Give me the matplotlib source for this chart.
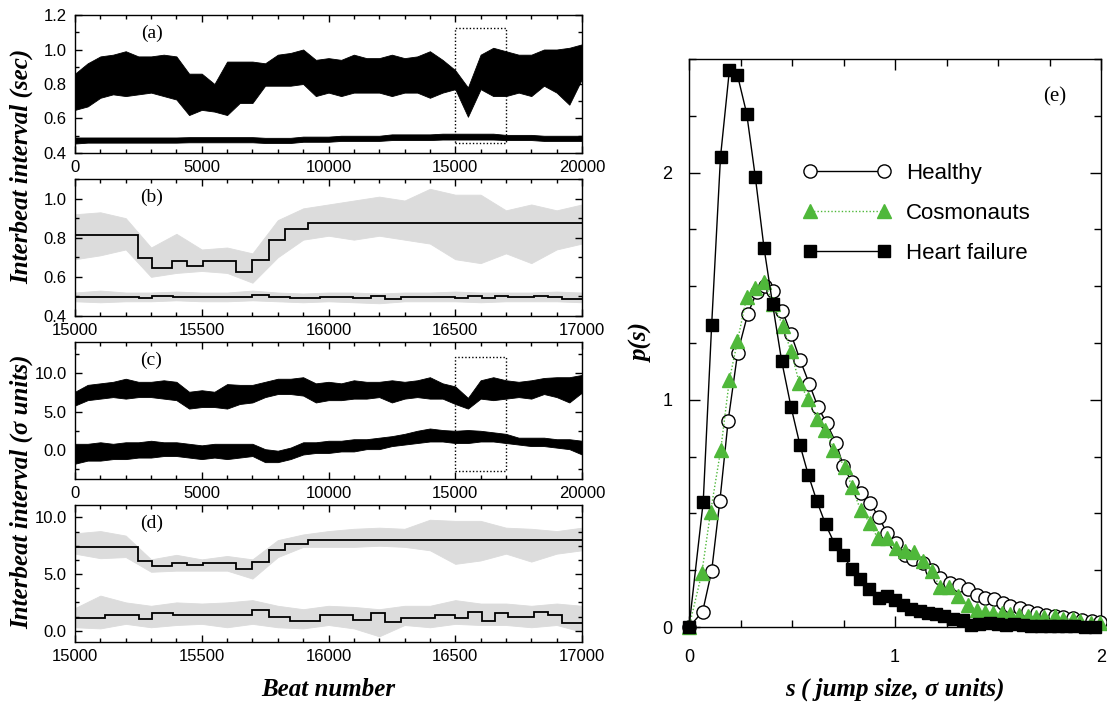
import matplotlib
matplotlib.use("Agg")
import matplotlib.pyplot as plt
from matplotlib.patches import Rectangle
from matplotlib.ticker import MultipleLocator, FormatStrFormatter

SANS = "Liberation Sans"
SERIF = "Liberation Serif"
GREY = "#dcdcdc"
GREEN = "#4fb83a"

plt.rcParams["font.family"] = [SANS, "DejaVu Sans"]

# ---- full records, envelope read every 500 beats ----
beats = [0, 500, 1000, 1500, 2000, 2500, 3000, 3500, 4000, 4500,
         5000, 5500, 6000, 6500, 7000, 7500, 8000, 8500, 9000, 9500,
         10000, 10500, 11000, 11500, 12000, 12500, 13000, 13500, 14000, 14500,
         15000, 15500, 16000, 16500, 17000, 17500, 18000, 18500, 19000, 19500,
         20000]

# (a) seconds, upper = healthy-like record, lower = heart failure
sec_up_hi = [0.86, 0.92, 0.96, 0.97, 0.99, 0.96, 0.96, 0.97, 0.96, 0.86,
             0.86, 0.80, 0.93, 0.93, 0.93, 0.92, 0.97, 0.98, 1.00, 0.94,
             0.95, 0.94, 0.97, 0.95, 0.95, 0.97, 0.95, 0.96, 0.99, 0.94,
             0.88, 0.78, 0.97, 1.01, 0.99, 0.97, 0.97, 1.00, 1.00, 1.01,
             1.03]
sec_up_lo = [0.65, 0.67, 0.72, 0.74, 0.73, 0.74, 0.75, 0.73, 0.71, 0.62,
             0.65, 0.64, 0.62, 0.69, 0.69, 0.79, 0.79, 0.79, 0.80, 0.73,
             0.75, 0.73, 0.75, 0.75, 0.75, 0.73, 0.75, 0.75, 0.72, 0.75,
             0.77, 0.61, 0.77, 0.73, 0.73, 0.75, 0.73, 0.79, 0.75, 0.68,
             0.83]
sec_dn_hi = [0.490, 0.490, 0.490, 0.490, 0.490, 0.490, 0.490, 0.490, 0.490, 0.492,
             0.492, 0.492, 0.492, 0.492, 0.492, 0.488, 0.488, 0.488, 0.495, 0.495,
             0.495, 0.500, 0.500, 0.500, 0.500, 0.508, 0.508, 0.508, 0.508, 0.512,
             0.512, 0.512, 0.512, 0.512, 0.505, 0.505, 0.505, 0.500, 0.500, 0.500,
             0.500]
sec_dn_lo = [0.455, 0.460, 0.460, 0.460, 0.460, 0.460, 0.460, 0.460, 0.460, 0.462,
             0.462, 0.462, 0.462, 0.462, 0.462, 0.458, 0.458, 0.458, 0.465, 0.465,
             0.465, 0.470, 0.470, 0.470, 0.470, 0.475, 0.475, 0.475, 0.475, 0.478,
             0.478, 0.478, 0.478, 0.478, 0.475, 0.475, 0.475, 0.470, 0.470, 0.470,
             0.470]

# (c) sigma units
sig_up_hi = [7.6, 8.5, 8.7, 8.9, 9.3, 8.9, 8.9, 9.1, 8.9, 7.6,
             7.8, 7.6, 8.6, 8.5, 8.5, 8.9, 9.3, 9.3, 9.5, 8.7,
             8.9, 8.7, 9.1, 8.9, 8.9, 9.1, 8.9, 9.1, 9.5, 8.7,
             8.3, 6.8, 9.1, 9.5, 9.1, 8.9, 9.1, 9.4, 9.5, 9.5,
             9.8]
sig_up_lo = [5.8, 6.5, 6.7, 6.9, 6.7, 6.9, 6.9, 6.7, 6.5, 5.4,
             5.6, 5.6, 5.4, 6.0, 6.2, 6.9, 7.3, 7.3, 7.1, 6.2,
             6.5, 6.5, 6.7, 6.7, 6.9, 6.2, 6.7, 6.9, 6.7, 6.7,
             6.0, 5.4, 6.7, 6.5, 6.7, 6.9, 6.7, 7.3, 6.9, 6.2,
             7.5]
sig_dn_hi = [0.8, 0.8, 1.0, 0.8, 1.0, 1.0, 1.2, 1.0, 1.0, 0.8,
             0.6, 0.8, 0.8, 0.8, 0.8, 0.1, -0.1, 0.3, 1.0, 1.0,
             1.2, 1.2, 1.4, 1.4, 1.6, 1.8, 2.1, 2.5, 2.8, 2.6,
             2.5, 2.6, 2.5, 2.3, 2.1, 1.6, 1.6, 1.6, 1.4, 1.4,
             1.2]
sig_dn_lo = [-1.8, -1.4, -1.4, -1.2, -1.2, -1.0, -1.0, -0.8, -0.8, -1.0,
             -1.2, -1.0, -1.2, -1.0, -0.8, -1.6, -1.6, -1.2, -0.6, -0.4,
             -0.4, -0.2, -0.2, 0.1, 0.1, 0.5, 0.7, 0.9, 1.1, 1.1,
             0.9, 0.9, 1.1, 1.1, 0.9, 0.7, 0.5, 0.5, 0.3, 0.1,
             -0.6]

# ---- zoomed window 15000-17000, raw envelope every 100 beats ----
zbeats = [15000, 15100, 15200, 15300, 15400, 15500, 15600, 15700, 15800, 15900,
          16000, 16100, 16200, 16300, 16400, 16500, 16600, 16700, 16800, 16900,
          17000]
zsec_up_hi = [0.92, 0.93, 0.90, 0.75, 0.82, 0.74, 0.75, 0.72, 0.89, 0.95,
              0.97, 0.99, 1.01, 0.99, 1.05, 1.02, 1.02, 0.94, 0.97, 0.94, 0.97]
zsec_up_lo = [0.69, 0.71, 0.74, 0.60, 0.62, 0.63, 0.62, 0.57, 0.70, 0.79,
              0.81, 0.79, 0.81, 0.79, 0.77, 0.69, 0.67, 0.72, 0.67, 0.74, 0.77]
zsec_dn_hi = [0.520, 0.530, 0.520, 0.520, 0.525, 0.520, 0.520, 0.530, 0.520, 0.515,
              0.520, 0.520, 0.515, 0.520, 0.520, 0.525, 0.520, 0.520, 0.520, 0.525, 0.520]
zsec_dn_lo = [0.475, 0.470, 0.475, 0.475, 0.480, 0.475, 0.475, 0.480, 0.475, 0.470,
              0.475, 0.470, 0.465, 0.475, 0.475, 0.475, 0.470, 0.475, 0.475, 0.475, 0.470]
zsig_up_hi = [8.6, 8.8, 8.4, 6.3, 6.7, 6.3, 6.6, 6.3, 8.0, 8.5,
              8.8, 9.0, 9.1, 9.0, 9.8, 9.7, 9.7, 9.1, 9.0, 8.8, 9.1]
zsig_up_lo = [6.8, 6.4, 6.5, 5.2, 5.3, 5.3, 5.3, 4.6, 6.5, 7.4,
              7.4, 7.4, 7.5, 7.4, 7.1, 5.9, 6.2, 6.8, 6.1, 6.8, 7.1]
zsig_dn_hi = [2.0, 3.1, 2.5, 2.2, 2.5, 2.4, 2.5, 2.7, 2.2, 1.9,
              2.2, 2.1, 1.9, 2.2, 2.2, 2.7, 2.4, 2.4, 2.2, 2.4, 2.2]
zsig_dn_lo = [0.3, 0.2, 0.6, 0.3, 0.5, 0.6, 0.3, 0.6, 0.3, 0.2,
              0.5, 0.2, -0.5, 0.5, 0.3, 0.6, 0.5, 0.5, 0.3, 0.5, -0.1]

# segmentation (step means)
up_edges = [15000, 15250, 15302, 15381, 15440, 15506, 15634, 15697, 15765,
            15828, 15920, 17000]
up_sec = [0.812, 0.697, 0.647, 0.681, 0.656, 0.681, 0.625, 0.685, 0.790, 0.842, 0.875]
up_sig = [7.38, 6.12, 5.69, 5.98, 5.77, 5.98, 5.45, 6.06, 7.14, 7.64, 8.02]

dn_edges = [15000, 15118, 15252, 15304, 15385, 15697, 15764, 15850, 15968,
            16095, 16166, 16223, 16287, 16420, 16499, 16552, 16604, 16657,
            16709, 16812, 16867, 16920, 17000]
dn_sec = [0.495, 0.497, 0.492, 0.500, 0.495, 0.505, 0.498, 0.492, 0.498, 0.493,
          0.502, 0.488, 0.495, 0.498, 0.493, 0.503, 0.490, 0.502, 0.497, 0.503,
          0.498, 0.487]
dn_sig = [1.08, 1.37, 1.02, 1.60, 1.37, 1.81, 1.25, 0.87, 1.37, 0.96,
          1.55, 0.73, 1.11, 1.40, 1.11, 1.69, 0.87, 1.55, 1.17, 1.69,
          1.40, 0.67]

# ---- (e) jump size distributions ----
healthy_s = [0.0, 0.066, 0.110, 0.150, 0.190, 0.236, 0.285, 0.329, 0.370, 0.410,
             0.453, 0.495, 0.539, 0.584, 0.625, 0.668, 0.714, 0.749, 0.790, 0.833,
             0.879, 0.920, 0.960, 1.003, 1.049, 1.089, 1.134, 1.178, 1.220, 1.267,
             1.310, 1.356, 1.397, 1.437, 1.480, 1.523, 1.560, 1.607, 1.647, 1.690,
             1.733, 1.777, 1.817, 1.862, 1.906, 1.955, 1.995]
healthy_p = [0.0, 0.067, 0.247, 0.556, 0.907, 1.206, 1.377, 1.474, 1.50, 1.477,
             1.393, 1.29, 1.176, 1.07, 0.97, 0.897, 0.81, 0.709, 0.637, 0.589,
             0.545, 0.486, 0.415, 0.369, 0.317, 0.298, 0.283, 0.251, 0.214, 0.192,
             0.185, 0.166, 0.141, 0.129, 0.125, 0.104, 0.094, 0.082, 0.072, 0.063,
             0.053, 0.048, 0.045, 0.038, 0.031, 0.028, 0.023]
cosmo_s = [0.0, 0.062, 0.105, 0.154, 0.196, 0.235, 0.280, 0.320, 0.364, 0.410,
           0.455, 0.495, 0.535, 0.579, 0.620, 0.660, 0.700, 0.757, 0.790, 0.833,
           0.879, 0.916, 0.960, 1.005, 1.049, 1.092, 1.138, 1.178, 1.218, 1.264,
           1.307, 1.353, 1.397, 1.437, 1.478, 1.520, 1.560, 1.600, 1.647, 1.686,
           1.725, 1.775, 1.815, 1.862, 1.900, 1.950, 1.995]
cosmo_p = [0.0, 0.236, 0.508, 0.78, 1.088, 1.257, 1.452, 1.49, 1.52, 1.42,
           1.326, 1.213, 1.076, 1.003, 0.915, 0.868, 0.78, 0.706, 0.618, 0.515,
           0.457, 0.39, 0.39, 0.347, 0.336, 0.329, 0.292, 0.248, 0.175, 0.178,
           0.137, 0.097, 0.075, 0.067, 0.063, 0.06, 0.057, 0.053, 0.048, 0.043,
           0.045, 0.048, 0.035, 0.035, 0.026, 0.019, 0.016]
hf_s = [0.0, 0.069, 0.110, 0.153, 0.196, 0.235, 0.280, 0.322, 0.364, 0.406,
        0.450, 0.495, 0.539, 0.579, 0.620, 0.663, 0.707, 0.749, 0.790, 0.830,
        0.875, 0.920, 0.960, 1.000, 1.040, 1.080, 1.120, 1.160, 1.200, 1.240,
        1.280, 1.330, 1.370, 1.410, 1.460, 1.500, 1.540, 1.580, 1.620, 1.660,
        1.710, 1.750, 1.790, 1.830, 1.870, 1.920, 1.970]
hf_p = [0.0, 0.55, 1.33, 2.07, 2.45, 2.43, 2.26, 1.98, 1.67, 1.42,
        1.17, 0.97, 0.80, 0.67, 0.556, 0.452, 0.366, 0.317, 0.254, 0.21,
        0.166, 0.126, 0.137, 0.118, 0.096, 0.081, 0.071, 0.062, 0.056, 0.047,
        0.037, 0.029, 0.007, 0.012, 0.018, 0.015, 0.007, 0.012, 0.008, 0.006,
        0.006, 0.005, 0.004, 0.004, 0.003, 0.002, 0.002]


W, H = 1107, 706


def box(left, top, right, bottom):
    return [left / W, 1 - bottom / H, (right - left) / W, (bottom - top) / H]


def frame(ax, xmaj, xmin, ymaj, ymin, xfmt="%d", yfmt="%.1f", size=12,
          maj=5, mnr=3, xpad=5, ypad=6):
    ax.xaxis.set_major_locator(MultipleLocator(xmaj))
    ax.xaxis.set_minor_locator(MultipleLocator(xmin))
    ax.yaxis.set_major_locator(MultipleLocator(ymaj))
    ax.yaxis.set_minor_locator(MultipleLocator(ymin))
    ax.xaxis.set_major_formatter(FormatStrFormatter(xfmt))
    ax.yaxis.set_major_formatter(FormatStrFormatter(yfmt))
    ax.tick_params(which="both", direction="in", top=True, right=True,
                   labelsize=size, width=1)
    ax.tick_params(which="major", length=maj)
    ax.tick_params(which="minor", length=mnr)
    ax.tick_params(axis="x", pad=xpad)
    ax.tick_params(axis="y", pad=ypad)
    for sp in ax.spines.values():
        sp.set_linewidth(1)


def tag(ax, s):
    ax.text(0.151, 0.865, s, transform=ax.transAxes, ha="center", va="center",
            fontsize=14, family=SERIF)


fig = plt.figure(figsize=(W / 100, H / 100), dpi=100)

ax_a = fig.add_axes(box(75, 15, 582, 153))
ax_b = fig.add_axes(box(75, 179, 582, 316))
ax_c = fig.add_axes(box(75, 342, 582, 479))
ax_d = fig.add_axes(box(75, 505, 582, 642))
ax_e = fig.add_axes(box(689, 59, 1101, 627))

# (a)
ax_a.fill_between(beats, sec_up_lo, sec_up_hi, color="k", lw=0.6)
ax_a.fill_between(beats, sec_dn_lo, sec_dn_hi, color="k", lw=0.6)
ax_a.add_patch(Rectangle((15000, 0.46), 2000, 0.665, fill=False, ec="k",
                         lw=1, ls=(0, (1, 1.5))))
ax_a.set_xlim(0, 20000)
ax_a.set_ylim(0.4, 1.2)
frame(ax_a, 5000, 1000, 0.2, 0.1)
tag(ax_a, "(a)")

# (b)
ax_b.fill_between(zbeats, zsec_up_lo, zsec_up_hi, color=GREY, lw=0.6)
ax_b.fill_between(zbeats, zsec_dn_lo, zsec_dn_hi, color=GREY, lw=0.6)
ax_b.stairs(up_sec, up_edges, color="k", lw=1.3, baseline=None)
ax_b.stairs(dn_sec, dn_edges, color="k", lw=1.3, baseline=None)
ax_b.set_xlim(15000, 17000)
ax_b.set_ylim(0.4, 1.1)
frame(ax_b, 500, 100, 0.2, 0.1)
tag(ax_b, "(b)")

# (c)
ax_c.fill_between(beats, sig_up_lo, sig_up_hi, color="k", lw=0.6)
ax_c.fill_between(beats, sig_dn_lo, sig_dn_hi, color="k", lw=0.6)
ax_c.add_patch(Rectangle((15000, -2.77), 2000, 14.9, fill=False, ec="k",
                         lw=1, ls=(0, (1, 1.5))))
ax_c.set_xlim(0, 20000)
ax_c.set_ylim(-3.8, 14.1)
frame(ax_c, 5000, 1000, 5, 2.5)
tag(ax_c, "(c)")

# (d)
ax_d.fill_between(zbeats, zsig_up_lo, zsig_up_hi, color=GREY, lw=0.6)
ax_d.fill_between(zbeats, zsig_dn_lo, zsig_dn_hi, color=GREY, lw=0.6)
ax_d.stairs(up_sig, up_edges, color="k", lw=1.3, baseline=None)
ax_d.stairs(dn_sig, dn_edges, color="k", lw=1.3, baseline=None)
ax_d.set_xlim(15000, 17000)
ax_d.set_ylim(-1.0, 11.1)
frame(ax_d, 500, 100, 5, 1.25)
tag(ax_d, "(d)")

label_font = dict(family=SERIF, style="italic", weight="bold", fontsize=18)
fig.text(22 / W, 1 - 166 / H, "Interbeat interval (sec)", rotation=90,
         ha="center", va="center", **label_font)
fig.text(22 / W, 1 - 492 / H, "Interbeat interval (\u03c3 units)", rotation=90,
         ha="center", va="center", **label_font)
fig.text(328 / W, 1 - 690 / H, "Beat number", ha="center", va="center",
         **label_font)

# (e)
ax_e.plot(healthy_s, healthy_p, "-o", color="k", lw=1, ms=9.5, mfc="white",
          mec="k", mew=1, clip_on=False, zorder=3, label="Healthy")
ax_e.plot(cosmo_s, cosmo_p, "^", ls=(0, (1, 1.5)), color=GREEN, lw=1, ms=10,
          mec=GREEN, clip_on=False, zorder=4, label="Cosmonauts")
ax_e.plot(hf_s, hf_p, "-s", color="k", lw=1, ms=8, clip_on=False, zorder=5,
          label="Heart failure")
ax_e.set_xlim(0, 2)
ax_e.set_ylim(0, 2.5)
frame(ax_e, 1, 0.25, 1, 0.25, xfmt="%d", yfmt="%d", size=13, maj=8, mnr=5,
      xpad=16, ypad=12)
ax_e.set_xlabel("s ( jump size, \u03c3 units)", labelpad=8, **label_font)
ax_e.set_ylabel("p(s)", labelpad=6, **label_font)
ax_e.text(0.888, 0.933, "(e)", transform=ax_e.transAxes, ha="center",
          va="center", fontsize=15, family=SERIF)
ax_e.legend(loc="upper left", bbox_to_anchor=(0.278, 0.817), frameon=False,
            fontsize=16, numpoints=2, handlelength=3.93, handletextpad=0.68,
            labelspacing=0.86, borderpad=0, borderaxespad=0)

fig.savefig("out.png", dpi=100)
